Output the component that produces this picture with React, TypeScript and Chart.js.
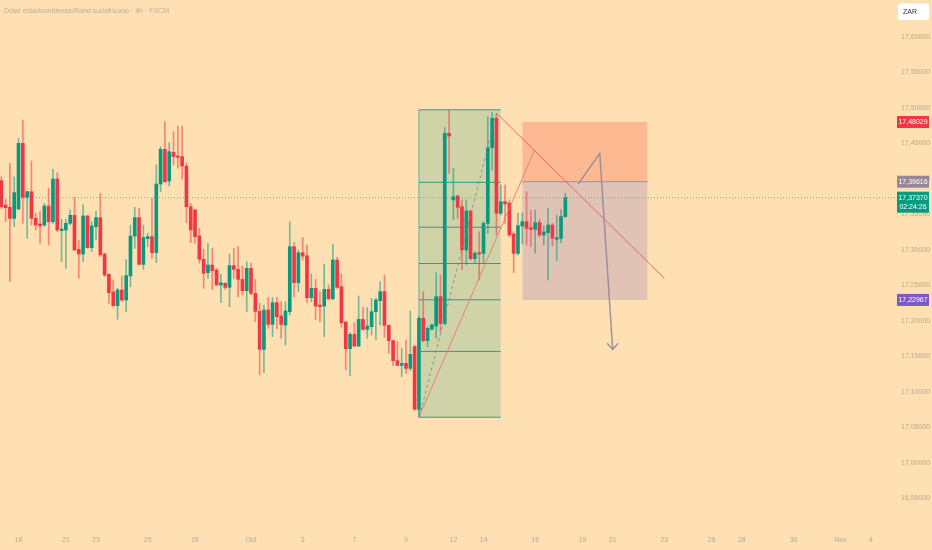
import React, { useEffect, useRef } from "react";
import { Chart, registerables } from "chart.js";

Chart.register(...registerables);

// ---- Candle data (4h, USD/ZAR), index 1..132 ----
const opens = [
  17.3977, 17.3634, 17.3601, 17.3446, 17.3578, 17.4503, 17.3742, 17.3822, 17.3446, 17.3366,
  17.3352, 17.3620, 17.3399, 17.4000, 17.3272, 17.3282, 17.3376, 17.3488, 17.3010, 17.2944,
  17.3479, 17.3033, 17.3329, 17.3456, 17.2944, 17.2657, 17.2409, 17.2216, 17.2437, 17.2296,
  17.2634, 17.3197, 17.3456, 17.2798, 17.3160, 17.3188, 17.2963, 17.3930, 17.4418, 17.3972,
  17.4376, 17.4324, 17.4315, 17.4183, 17.3610, 17.3564, 17.3197, 17.2869, 17.2681, 17.2789,
  17.2718, 17.2507, 17.2531, 17.2474, 17.2780, 17.2728, 17.2587, 17.2427, 17.2742, 17.2390,
  17.2136, 17.1601, 17.2155, 17.1953, 17.2258, 17.2071, 17.1943, 17.2131, 17.3047, 17.2540,
  17.2962, 17.2920, 17.2328, 17.2460, 17.2225, 17.2211, 17.2446, 17.2314, 17.2859, 17.2483,
  17.1986, 17.1610, 17.1812, 17.1648, 17.2023, 17.1882, 17.1920, 17.2131, 17.2286, 17.2413,
  17.1939, 17.1723, 17.1441, 17.1375, 17.1404, 17.1333, 17.1639, 17.0756, 17.2038, 17.1723,
  17.1883, 17.1930, 17.2343, 17.1967, 17.4644, 17.3705, 17.3761, 17.3611, 17.3000, 17.3550,
  17.2878, 17.2963, 17.2953, 17.3376, 17.4442, 17.4855, 17.3517, 17.3681, 17.3658, 17.3226,
  17.2953, 17.3338, 17.3399, 17.3315, 17.3291, 17.3385, 17.3212, 17.3244, 17.3352, 17.3151,
  17.3165, 17.3470,
];
const highs = [
  17.4033, 17.3714, 17.4221, 17.4033, 17.4573, 17.4831, 17.3831, 17.4254, 17.3517, 17.3540,
  17.3657, 17.3869, 17.4136, 17.4089, 17.3432, 17.3432, 17.3564, 17.3742, 17.3141, 17.3639,
  17.3490, 17.3399, 17.3549, 17.3798, 17.2955, 17.2665, 17.2578, 17.2460, 17.2634, 17.2869,
  17.3352, 17.3601, 17.3587, 17.3352, 17.3235, 17.3728, 17.4197, 17.4456, 17.4808, 17.4512,
  17.4667, 17.4747, 17.4747, 17.4230, 17.3657, 17.3573, 17.3305, 17.3010, 17.3094, 17.3024,
  17.2742, 17.2657, 17.2540, 17.2944, 17.3024, 17.3047, 17.2775, 17.2836, 17.2812, 17.2587,
  17.2249, 17.2225, 17.2334, 17.2329, 17.2334, 17.2272, 17.2272, 17.3399, 17.3103, 17.3000,
  17.3178, 17.3070, 17.2662, 17.2587, 17.2413, 17.2798, 17.2507, 17.3080, 17.2897, 17.2662,
  17.1990, 17.1836, 17.1976, 17.2352, 17.2192, 17.2188, 17.2319, 17.2319, 17.2554, 17.2648,
  17.1945, 17.1732, 17.1709, 17.1615, 17.1732, 17.2141, 17.1662, 17.2061, 17.2413, 17.1920,
  17.1958, 17.2681, 17.2648, 17.4728, 17.4972, 17.4151, 17.3775, 17.3705, 17.3705, 17.3564,
  17.2977, 17.3259, 17.3399, 17.4878, 17.4935, 17.4925, 17.3916, 17.3916, 17.3705, 17.3259,
  17.3517, 17.3526, 17.3822, 17.3564, 17.3564, 17.3432, 17.3338, 17.3587, 17.3376, 17.3493,
  17.3573, 17.3798,
];
const lows = [
  17.3587, 17.3399, 17.2554, 17.3329, 17.3564, 17.3376, 17.3164, 17.3352, 17.3282, 17.3094,
  17.3329, 17.3071, 17.3376, 17.3258, 17.2836, 17.2742, 17.3352, 17.2995, 17.2601, 17.2836,
  17.3024, 17.2977, 17.3141, 17.2906, 17.2625, 17.2249, 17.2205, 17.2024, 17.2272, 17.2132,
  17.2484, 17.3024, 17.2789, 17.2728, 17.3047, 17.2883, 17.2822, 17.3822, 17.3949, 17.3902,
  17.4197, 17.4150, 17.4000, 17.3385, 17.3103, 17.3094, 17.2812, 17.2460, 17.2601, 17.2446,
  17.2500, 17.2258, 17.2446, 17.2202, 17.2601, 17.2343, 17.2366, 17.2132, 17.2366, 17.1991,
  17.1240, 17.1272, 17.1897, 17.1780, 17.1892, 17.1756, 17.1662, 17.2084, 17.2342, 17.2413,
  17.2859, 17.2258, 17.2272, 17.2023, 17.1990, 17.1779, 17.2296, 17.2296, 17.2460, 17.1911,
  17.1310, 17.1230, 17.1638, 17.1638, 17.1873, 17.1756, 17.1803, 17.1732, 17.1943, 17.1770,
  17.1544, 17.1366, 17.1371, 17.1216, 17.1263, 17.1300, 17.0747, 17.0653, 17.1709, 17.1639,
  17.1873, 17.1756, 17.1850, 17.1944, 17.4080, 17.3432, 17.3446, 17.2719, 17.2789, 17.2859,
  17.2813, 17.2578, 17.2813, 17.3235, 17.4127, 17.3212, 17.3493, 17.3376, 17.3188, 17.2681,
  17.2930, 17.3085, 17.3071, 17.3047, 17.2953, 17.3188, 17.3071, 17.2578, 17.3057, 17.2850,
  17.3104, 17.3460,
];
const closes = [
  17.3610, 17.3596, 17.3446, 17.3808, 17.4503, 17.3742, 17.3822, 17.3446, 17.3352, 17.3338,
  17.3620, 17.3399, 17.4000, 17.3282, 17.3296, 17.3376, 17.3488, 17.3000, 17.2944, 17.3479,
  17.3033, 17.3338, 17.3456, 17.2930, 17.2648, 17.2399, 17.2216, 17.2437, 17.2296, 17.2639,
  17.3197, 17.3456, 17.2798, 17.3174, 17.3188, 17.2963, 17.3930, 17.4418, 17.3963, 17.4385,
  17.4315, 17.4305, 17.4183, 17.3610, 17.3282, 17.3188, 17.2869, 17.2672, 17.2789, 17.2709,
  17.2507, 17.2540, 17.2474, 17.2780, 17.2728, 17.2587, 17.2427, 17.2742, 17.2390, 17.2136,
  17.1601, 17.2155, 17.1953, 17.2258, 17.2061, 17.1953, 17.2141, 17.3047, 17.2540, 17.2962,
  17.2915, 17.2328, 17.2460, 17.2211, 17.2202, 17.2446, 17.2314, 17.2859, 17.2474, 17.1976,
  17.1610, 17.1812, 17.1648, 17.2023, 17.1882, 17.1929, 17.2131, 17.2296, 17.2413, 17.1939,
  17.1723, 17.1441, 17.1375, 17.1404, 17.1333, 17.1530, 17.0756, 17.2038, 17.1723, 17.1897,
  17.1944, 17.2343, 17.1967, 17.4644, 17.4606, 17.3751, 17.3601, 17.3000, 17.3550, 17.2878,
  17.2953, 17.2944, 17.3376, 17.4442, 17.4855, 17.3517, 17.3681, 17.3648, 17.3212, 17.2953,
  17.3343, 17.3399, 17.3305, 17.3291, 17.3385, 17.3212, 17.3254, 17.3352, 17.3165, 17.3174,
  17.3470, 17.3737,
];
const firstIndex = 1;

// ---- Axes ----
const xMin = 0.7;
const xMax = 208.8;
const yMin = 16.9099;
const yMax = 17.6521;
const priceTicks = [16.95, 17.0, 17.05, 17.1, 17.15, 17.2, 17.25, 17.3, 17.35, 17.4, 17.45, 17.5, 17.55, 17.6];
const dateTickIdx = [5, 16, 23, 35, 46, 59, 71, 83, 95, 106, 113, 125, 136, 143, 155, 166, 173, 185, 196, 203];
const dateTickLabels = ["18", "21", "23", "25", "28", "Oct", "3", "7", "9", "12", "14", "16", "19", "21", "23", "26", "28", "30", "Nov", "4"];

// ---- Drawings ----
const lastPrice = 17.3737;
const countdown = "02:24:26";
const fibHigh = 17.4975;
const fibLow = 17.0645;
const fibStart = 98;
const fibEnd = 117;
const fibRatios = [0, 0.236, 0.382, 0.5, 0.618, 0.786, 1];
const shortStart = 122;
const shortEnd = 151.1;
const stopPrice = 17.48029;
const entryPrice = 17.39616;
const targetPrice = 17.22967;
const trendDownX = [116.2, 155];
const trendDownY = [17.4915, 17.2601];
const trendUpX = [98, 124.8];
const trendUpY = [17.065, 17.4399];
const fibDiagX = [98.1, 116];
const fibDiagY = [17.065, 17.4925];
const projX = [135, 140, 143];
const projY = [17.393, 17.4362, 17.1601];
const arrowX = [141.7, 143, 144.3];
const arrowY = [17.1686, 17.1601, 17.1686];

const title = "Dólar estadounidense/Rand sudafricano · 4h · FXCM";
const currency = "ZAR";

const BG = "rgb(254,224,178)";
const UP = "#089981";
const DN = "#f23645";
const UP_WICK = "rgba(8,153,129,0.55)";
const DN_WICK = "rgba(242,54,69,0.55)";
const AXIS_TEXT = "#b3a996";
const FONT = "'Liberation Sans', Arial, sans-serif";

const fmt = (v: number) => v.toFixed(5).replace(".", ",");

const line = (xs: number[], ys: number[], color: string, width: number, extra: any = {}) => ({
  type: "line" as const,
  data: xs.map((x, k) => ({ x, y: ys[k] })),
  borderColor: color,
  borderWidth: width,
  pointRadius: 0,
  fill: false,
  tension: 0,
  order: 1,
  ...extra,
});

const noPad = (axis: any) => {
  axis.paddingTop = 0;
  axis.paddingBottom = 0;
  axis.paddingLeft = 0;
  axis.paddingRight = 0;
};

export default function App() {
  const ref = useRef<HTMLCanvasElement>(null);

  useEffect(() => {
    const canvas = ref.current;
    if (!canvas) return;
    const idx = opens.map((_, k) => firstIndex + k);
    const isUp = (k: number) => closes[k] >= opens[k];

    const datasets: any[] = [];

    // Short position zones (behind everything)
    datasets.push(
      line([shortStart, shortEnd], [stopPrice, stopPrice], "rgba(0,0,0,0)", 0, {
        fill: { value: entryPrice },
        backgroundColor: "rgba(251,178,140,0.85)",
        order: 20,
      })
    );
    datasets.push(
      line([shortStart, shortEnd], [entryPrice, entryPrice], "rgba(150,138,148,0.9)", 1, {
        fill: { value: targetPrice },
        backgroundColor: "rgba(214,186,182,0.75)",
        order: 19,
      })
    );
    // Fib box
    datasets.push(
      line([fibStart, fibEnd], [fibHigh, fibHigh], "rgba(0,0,0,0)", 0, {
        fill: { value: fibLow },
        backgroundColor: "rgba(8,153,129,0.19)",
        order: 18,
      })
    );
    fibRatios.forEach((r) => {
      const p = fibHigh - r * (fibHigh - fibLow);
      datasets.push(line([fibStart, fibEnd], [p, p], "rgba(8,153,129,0.85)", 1, { order: 17 }));
    });
    datasets.push(line([fibStart, fibStart], [fibLow, fibHigh], "rgba(8,153,129,0.6)", 1, { order: 17 }));

    // Candles
    datasets.push({
      type: "bar",
      data: idx.map((x, k) => ({ x, y: [lows[k], highs[k]] })),
      backgroundColor: idx.map((_, k) => (isUp(k) ? UP_WICK : DN_WICK)),
      barThickness: 1,
      grouped: false,
      order: 6,
    });
    datasets.push({
      type: "bar",
      data: idx.map((x, k) => ({ x, y: [opens[k], closes[k]] })),
      backgroundColor: idx.map((_, k) => (isUp(k) ? UP : DN)),
      barThickness: 3,
      minBarLength: 1,
      grouped: false,
      order: 5,
    });

    // Current price line
    datasets.push(line([xMin, xMax], [lastPrice, lastPrice], "rgba(8,153,129,0.55)", 1, { borderDash: [1, 2], order: 4 }));

    // Trend / drawing lines
    datasets.push(line(fibDiagX, fibDiagY, "rgba(130,130,140,0.85)", 1, { borderDash: [3, 3], order: 2 }));
    datasets.push(line(trendUpX, trendUpY, "rgba(236,110,115,0.85)", 1, { order: 2 }));
    datasets.push(line(trendDownX, trendDownY, "rgba(236,80,95,0.85)", 1, { order: 2 }));
    datasets.push(line(projX, projY, "rgba(150,138,150,0.9)", 1.5, { order: 1 }));
    datasets.push(line(arrowX, arrowY, "rgba(150,138,150,0.9)", 1.5, { order: 1 }));

    const overlay = {
      id: "overlay",
      beforeDraw(chart: any) {
        const c = chart.ctx;
        c.save();
        c.fillStyle = BG;
        c.fillRect(0, 0, chart.width, chart.height);
        c.restore();
      },
      afterDraw(chart: any) {
        const c = chart.ctx;
        const y = chart.scales.y;
        c.save();
        // title
        c.font = `7px ${FONT}`;
        c.fillStyle = "#b8ad9b";
        c.textBaseline = "middle";
        c.textAlign = "left";
        c.fillText(title, 4, 11);

        // currency box
        c.fillStyle = "#ffffff";
        c.beginPath();
        (c as any).roundRect(898, 3.5, 31, 16.5, 2.5);
        c.fill();
        c.fillStyle = "#2a2e39";
        c.font = `7px ${FONT}`;
        c.fillText(currency, 903, 12);

        const tag = (price: number, bg: string, lines: string[]) => {
          const py = y.getPixelForValue(price);
          const h = lines.length === 1 ? 12 : 21;
          c.fillStyle = bg;
          c.fillRect(897, py - 6, 32, h);
          c.fillStyle = "#ffffff";
          c.font = `7px ${FONT}`;
          c.textAlign = "center";
          lines.forEach((t, k) => c.fillText(t, 913, py + k * 9.5));
        };
        tag(stopPrice, "#f23645", [fmt(stopPrice)]);
        tag(entryPrice, "#968796", [fmt(entryPrice)]);
        tag(lastPrice, "#089981", [fmt(lastPrice), countdown]);
        tag(targetPrice, "#7e57c2", [fmt(targetPrice)]);
        c.restore();
      },
    };

    const chart = new Chart(canvas, {
      type: "bar",
      data: { datasets },
      options: {
        animation: false,
        responsive: false,
        events: [],
        layout: { padding: 0 },
        plugins: { legend: { display: false }, tooltip: { enabled: false } },
        scales: {
          x: {
            type: "linear",
            min: xMin,
            max: xMax,
            offset: false,
            grid: { display: false, drawTicks: false },
            border: { display: false },
            afterBuildTicks: (axis: any) => {
              axis.ticks = dateTickIdx.map((v) => ({ value: v }));
            },
            afterFit: (axis: any) => {
              axis.height = 23;
              noPad(axis);
            },
            ticks: {
              autoSkip: false,
              maxRotation: 0,
              minRotation: 0,
              padding: 9,
              color: AXIS_TEXT,
              font: { size: 7, family: FONT },
              callback: (_v: any, i: number) => dateTickLabels[i],
            },
          },
          y: {
            type: "linear",
            position: "right",
            min: yMin,
            max: yMax,
            grid: { display: false, drawTicks: false },
            border: { display: false },
            afterBuildTicks: (axis: any) => {
              axis.ticks = priceTicks.map((v) => ({ value: v }));
            },
            afterFit: (axis: any) => {
              axis.width = 36;
              noPad(axis);
            },
            ticks: {
              padding: 5,
              color: AXIS_TEXT,
              font: { size: 7, family: FONT },
              callback: (v: any) => fmt(Number(v)),
            },
          },
        },
      } as any,
      plugins: [overlay],
    });
    return () => chart.destroy();
  }, []);

  return (
    <div style={{ position: "fixed", left: 0, top: 0, width: 932, height: 550, background: BG }}>
      <canvas ref={ref} width={932} height={550} />
    </div>
  );
}
